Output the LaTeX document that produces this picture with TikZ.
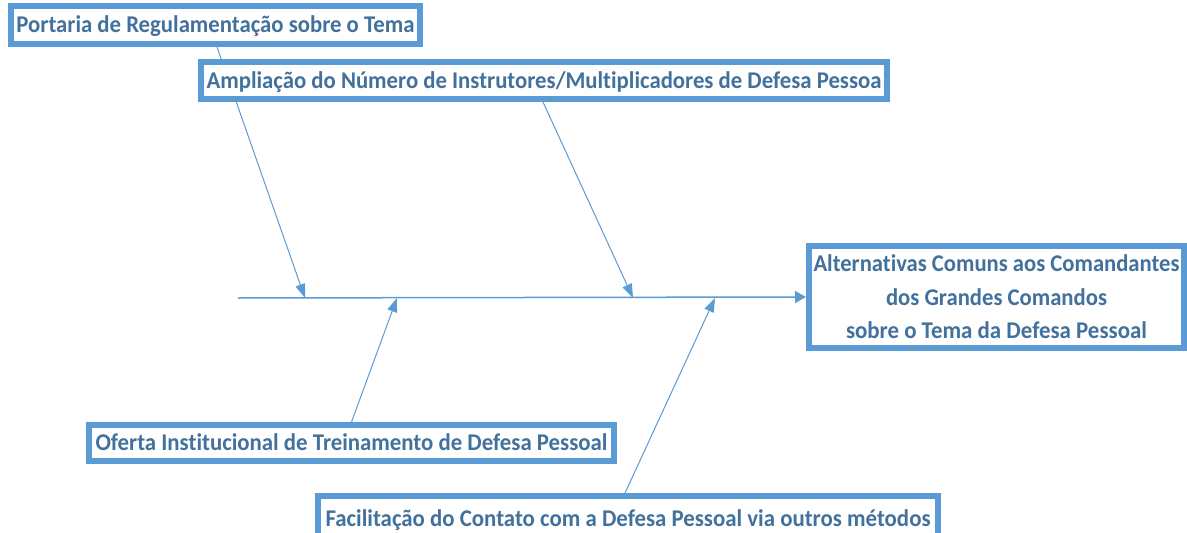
\documentclass[tikz,border=0pt]{standalone}
\usepackage{fontspec}
\setmainfont[Ligatures=NoCommon]{Carlito}
\usepackage{graphicx}
\usetikzlibrary{arrows.meta,calc}
\definecolor{bord}{RGB}{91,155,213}
\definecolor{txt}{RGB}{65,113,156}
\newlength\fitlen
\newcommand\fitw[2]{\settowidth\fitlen{#2}\pgfmathsetmacro\fitsx{#1/\fitlen}\scalebox{\fitsx}[1]{#2}}
\pgfdeclarelayer{bg}
\pgfsetlayers{bg,main}
\begin{document}
\begin{tikzpicture}[x=1pt,y=-1pt,
  boxbase/.style={draw=bord,line width=6pt,fill=white,inner sep=0pt,outer sep=3pt,rectangle,text=txt,
    font=\fontsize{24}{33.5}\selectfont\bfseries},
  box/.style={boxbase,text height=15.5pt,text depth=0pt},
  conn/.style={draw=bord,line width=1pt,-{Triangle[length=14pt,width=10pt]}},
  spine/.style={draw=bord,line width=1.5pt,-{Triangle[length=11pt,width=12pt]}}]
\useasboundingbox (0,0) rectangle (1187,533);
\node[box,minimum width=409pt,minimum height=38pt] (b1) at (215.5,25)
  {\fitw{398}{Portaria de Regulamentação sobre o Tema}};
\node[box,minimum width=686pt,minimum height=37pt] (b2) at (544,80.5)
  {\fitw{675}{Ampliação do Número de Instrutores/Multiplicadores de Defesa Pessoa}};
\node[boxbase,align=center,text depth=0pt,minimum width=375pt,minimum height=102pt] (main) at (996.5,297)
  {\fitw{366}{Alternativas Comuns aos Comandantes}\\\fitw{221}{dos Grandes Comandos}\\\fitw{301}{sobre o Tema da Defesa Pessoal}};
\node[box,minimum width=525pt,minimum height=36pt] (b3) at (351.5,443)
  {\fitw{512}{Oferta Institucional de Treinamento de Defesa Pessoal}};
\node[box,minimum width=620pt,minimum height=46pt] (b4) at (628,519)
  {\fitw{605}{Facilitação do Contato com a Defesa Pessoal via outros métodos}};
\coordinate (s0) at (238,298);
\coordinate (p1) at (305,298);
\coordinate (p2) at (633,298);
\coordinate (p3) at (397,298);
\coordinate (p4) at (715,298);
\begin{pgfonlayer}{bg}
\draw[spine] (s0) -- (main.west);
\draw[conn] ($(b1.south)+(1.5,0)$) -- (p1);
\draw[conn] ($(b2.south)+(-1,0)$) -- (p2);
\draw[conn] (b3.north) -- (p3);
\draw[conn] ($(b4.north)+(-3,0)$) -- (p4);
\end{pgfonlayer}
\end{tikzpicture}
\end{document}
